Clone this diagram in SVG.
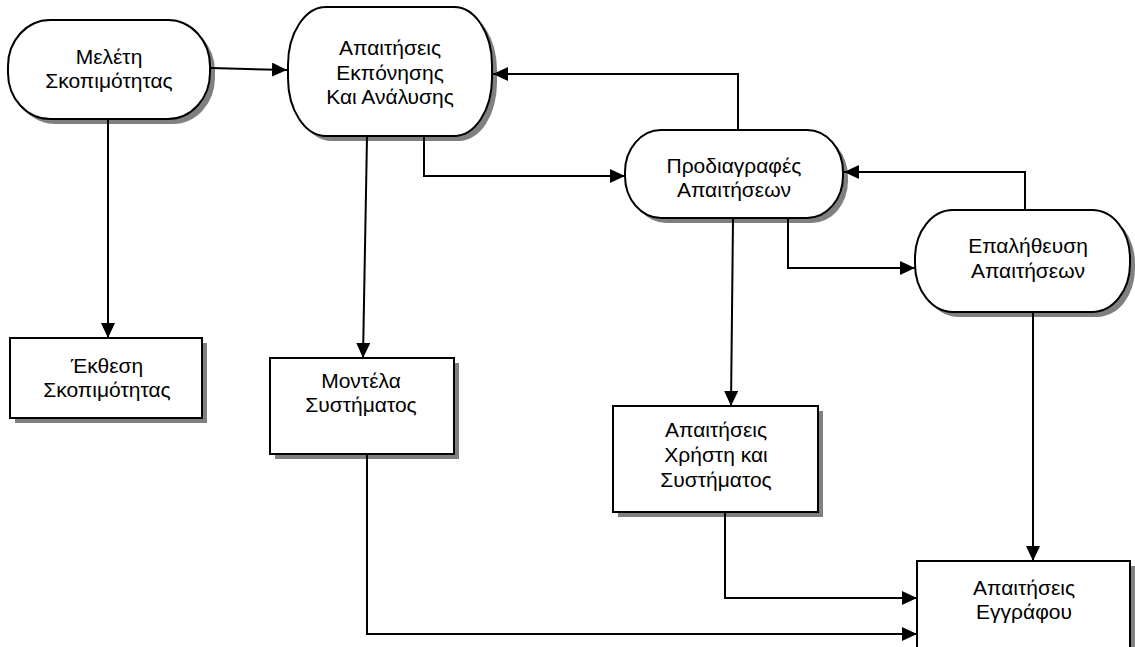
<svg xmlns="http://www.w3.org/2000/svg" width="1135" height="647" viewBox="0 0 1135 647">
<defs>
<style>
.shape{fill:#ffffff;stroke:#000000;stroke-width:2}
.shadow{fill:#808080;stroke:none}
.conn{fill:none;stroke:#000000;stroke-width:2}
text{font-family:"Liberation Sans",Arial,sans-serif;font-size:21px;fill:#000000;text-anchor:middle}
</style>
<marker id="arr" markerUnits="userSpaceOnUse" markerWidth="16" markerHeight="15" refX="15" refY="7" orient="auto">
<path d="M0,0 L15,7 L0,14 z" fill="#000000"/>
</marker>
</defs>
<rect width="1135" height="647" fill="#ffffff"/>

<g id="n1">
<rect class="shadow" x="13" y="25" width="202" height="99" rx="42" ry="46"/>
<rect class="shape" x="8" y="20" width="202" height="99" rx="42" ry="46"/>
<text x="109" y="64">Μελέτη</text>
<text x="109" y="88">Σκοπιμότητας</text>
</g>

<g id="n2">
<rect class="shadow" x="293" y="12" width="204" height="129" rx="38" ry="58"/>
<rect class="shape" x="288" y="7" width="204" height="129" rx="38" ry="58"/>
<text x="390" y="55">Απαιτήσεις</text>
<text x="390" y="80">Εκπόνησης</text>
<text x="390" y="104">Και Ανάλυσης</text>
</g>

<g id="n3">
<rect class="shadow" x="630" y="135" width="218" height="88" rx="36" ry="42"/>
<rect class="shape" x="625" y="130" width="218" height="88" rx="36" ry="42"/>
<text x="734" y="173">Προδιαγραφές</text>
<text x="734" y="197">Απαιτήσεων</text>
</g>

<g id="n4">
<rect class="shadow" x="920" y="215" width="215" height="102" rx="38" ry="48"/>
<rect class="shape" x="915" y="210" width="215" height="102" rx="38" ry="48"/>
<text x="1028" y="253">Επαλήθευση</text>
<text x="1028" y="278">Απαιτήσεων</text>
</g>

<g id="n5">
<rect class="shadow" x="15" y="343" width="192" height="80"/>
<rect class="shape" x="10" y="338" width="192" height="80"/>
<text x="107" y="373">Έκθεση</text>
<text x="107" y="397">Σκοπιμότητας</text>
</g>

<g id="n6">
<rect class="shadow" x="275" y="363" width="184" height="96"/>
<rect class="shape" x="270" y="358" width="184" height="96"/>
<text x="361" y="388">Μοντέλα</text>
<text x="361" y="412">Συστήματος</text>
</g>

<g id="n7">
<rect class="shadow" x="618" y="411" width="205" height="106"/>
<rect class="shape" x="613" y="406" width="205" height="106"/>
<text x="716" y="437">Απαιτήσεις</text>
<text x="716" y="462">Χρήστη και</text>
<text x="716" y="487">Συστήματος</text>
</g>

<g id="n8">
<rect class="shadow" x="922" y="566" width="213" height="100"/>
<rect class="shape" x="917" y="561" width="213" height="100"/>
<text x="1024" y="595">Απαιτήσεις</text>
<text x="1024" y="619">Εγγράφου</text>
</g>

<g id="connectors">
<path class="conn" d="M211,68 L287,70" marker-end="url(#arr)"/>
<path class="conn" d="M108,120 L108,338" marker-end="url(#arr)"/>
<path class="conn" d="M367,137 L363,358" marker-end="url(#arr)"/>
<path class="conn" d="M424,137 V176 H625" marker-end="url(#arr)"/>
<path class="conn" d="M738,130 V74 H493" marker-end="url(#arr)"/>
<path class="conn" d="M733,219 L731,406" marker-end="url(#arr)"/>
<path class="conn" d="M788,219 V268 H915" marker-end="url(#arr)"/>
<path class="conn" d="M1025,210 V172 H844" marker-end="url(#arr)"/>
<path class="conn" d="M1033,313 L1033,561" marker-end="url(#arr)"/>
<path class="conn" d="M367,455 V634 H917" marker-end="url(#arr)"/>
<path class="conn" d="M725,513 V598 H917" marker-end="url(#arr)"/>
</g>
</svg>
